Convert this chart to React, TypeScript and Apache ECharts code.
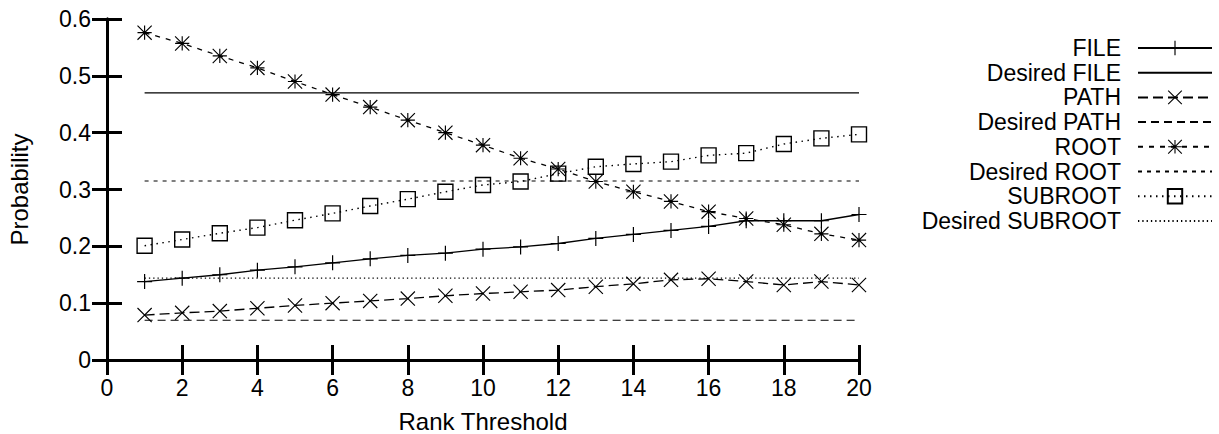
import React, { useEffect, useRef } from "react";
import * as echarts from "echarts";

// ---- data ----
const ranks = [1, 2, 3, 4, 5, 6, 7, 8, 9, 10, 11, 12, 13, 14, 15, 16, 17, 18, 19, 20];
const fileValues = [0.138, 0.144, 0.150, 0.158, 0.164, 0.171, 0.178, 0.184, 0.188, 0.195, 0.199, 0.205, 0.214, 0.221, 0.228, 0.235, 0.245, 0.245, 0.245, 0.256];
const pathValues = [0.079, 0.083, 0.086, 0.091, 0.096, 0.100, 0.104, 0.108, 0.113, 0.117, 0.120, 0.123, 0.129, 0.134, 0.141, 0.143, 0.138, 0.132, 0.138, 0.132];
const rootValues = [0.576, 0.557, 0.535, 0.514, 0.490, 0.467, 0.445, 0.422, 0.400, 0.378, 0.355, 0.336, 0.314, 0.296, 0.279, 0.261, 0.249, 0.238, 0.222, 0.211];
const subrootValues = [0.201, 0.212, 0.223, 0.233, 0.246, 0.258, 0.271, 0.283, 0.296, 0.308, 0.314, 0.328, 0.340, 0.345, 0.349, 0.360, 0.364, 0.380, 0.390, 0.397];
const desiredFile = 0.47;
const desiredPath = 0.07;
const desiredRoot = 0.315;
const desiredSubroot = 0.144;
const seriesNames = ["FILE", "Desired FILE", "PATH", "Desired PATH", "ROOT", "Desired ROOT", "SUBROOT", "Desired SUBROOT"];
const xAxisName = "Rank Threshold";
const yAxisName = "Probability";

// ---- marker shapes ----
function seg(x1: number, y1: number, x2: number, y2: number, w: number): string {
  const dx = x2 - x1;
  const dy = y2 - y1;
  const len = Math.sqrt(dx * dx + dy * dy);
  const nx = (-dy / len) * w;
  const ny = (dx / len) * w;
  return `M${x1 + nx},${y1 + ny}L${x2 + nx},${y2 + ny}L${x2 - nx},${y2 - ny}L${x1 - nx},${y1 - ny}Z`;
}
const W = 0.8;
const plusPath = "path://" + seg(0, -10, 0, 10, W) + seg(-10, 0, 10, 0, W);
const crossPath = "path://" + seg(-10, -10, 10, 10, W) + seg(-10, 10, 10, -10, W);
const starPath =
  "path://" + seg(-10, -10, 10, 10, W) + seg(-10, 10, 10, -10, W) + seg(0, -10, 0, 10, W) + seg(-10, 0, 10, 0, W);

const FONT = "'Liberation Sans', Arial, Helvetica, sans-serif";

export default function App() {
  const ref = useRef<HTMLDivElement>(null);

  useEffect(() => {
    document.body.style.margin = "0";
    if (!ref.current) return;
    const chart = echarts.init(ref.current, null, { renderer: "svg" });

    const pts = (vals: number[]) => ranks.map((r, i) => [r, vals[i]]);
    const flat = (v: number) => [
      [ranks[0], v],
      [ranks[ranks.length - 1], v],
    ];

    const dataSeries = (
      name: string,
      data: number[][],
      symbol: string,
      size: number,
      dash: any,
      width: number
    ) => ({
      name,
      type: "line",
      data,
      symbol,
      symbolSize: size,
      showSymbol: true,
      clip: false,
      lineStyle: { color: "#000", width, type: dash },
      itemStyle: { color: "#000" },
      z: 3,
    });

    const flatSeries = (name: string, v: number, dash: any, width: number) => ({
      name,
      type: "line",
      data: flat(v),
      symbol: "none",
      clip: false,
      lineStyle: { color: "#000", width, type: dash },
      itemStyle: { color: "#000", opacity: 0 },
      z: 2,
    });

    const axisCommon = {
      axisLine: { show: true, lineStyle: { color: "#000", width: 3 } },
      axisTick: { show: true, inside: true, length: 15, lineStyle: { color: "#000", width: 3 } },
      splitLine: { show: false },
    };

    const option: any = {
      animation: false,
      backgroundColor: "#fff",
      textStyle: { fontFamily: FONT },
      grid: { left: 107, right: 360, top: 19, bottom: 74, containLabel: false, outerBoundsMode: "none" },
      legend: {
        data: seriesNames,
        orient: "vertical",
        align: "right",
        right: 1,
        top: 31,
        itemWidth: 74,
        itemHeight: 18,
        itemGap: 0.7,
        selectedMode: false,
        textStyle: { fontSize: 23, fontFamily: FONT, color: "#000", lineHeight: 24, padding: [0, 12, 0, 0] },
      },
      xAxis: [
        {
          type: "value",
          min: 0,
          max: 20,
          interval: 2,
          position: "bottom",
          name: xAxisName,
          nameLocation: "middle",
          nameGap: 49,
          nameTextStyle: { fontSize: 24, color: "#000", fontFamily: FONT },
          axisLabel: { fontSize: 23, color: "#000", margin: 16, fontFamily: FONT },
          ...axisCommon,
        },
        {
          type: "value",
          min: 0,
          max: 20,
          interval: 2,
          position: "top",
          axisLabel: { show: false },
          ...axisCommon,
        },
      ],
      yAxis: [
        {
          type: "value",
          min: 0,
          max: 0.6,
          interval: 0.1,
          position: "left",
          name: yAxisName,
          nameLocation: "middle",
          nameGap: 76,
          nameRotate: 90,
          nameTextStyle: { fontSize: 24, color: "#000", fontFamily: FONT },
          axisLabel: {
            fontSize: 23,
            color: "#000",
            margin: 16,
            fontFamily: FONT,
            formatter: (v: number) => (v === 0 ? "0" : v.toFixed(1)),
          },
          ...axisCommon,
        },
        {
          type: "value",
          min: 0,
          max: 0.6,
          interval: 0.1,
          position: "right",
          axisLabel: { show: false },
          ...axisCommon,
        },
      ],
      series: [
        dataSeries(seriesNames[0], pts(fileValues), plusPath, 15, "solid", 1.3),
        flatSeries(seriesNames[1], desiredFile, "solid", 1.1),
        dataSeries(seriesNames[2], pts(pathValues), crossPath, 15, [10, 5], 1.3),
        flatSeries(seriesNames[3], desiredPath, [8, 5], 1.1),
        dataSeries(seriesNames[4], pts(rootValues), starPath, 15, [5, 6], 1.3),
        flatSeries(seriesNames[5], desiredRoot, [4, 5], 1.1),
        {
          ...dataSeries(seriesNames[6], pts(subrootValues), "rect", 15, [1.5, 4.5], 1.4),
          itemStyle: { color: "rgba(0,0,0,0)", borderColor: "#000", borderWidth: 1.4 },
        },
        flatSeries(seriesNames[7], desiredSubroot, [1.3, 3], 1.1),
      ],
    };

    chart.setOption(option);
    return () => chart.dispose();
  }, []);

  return <div ref={ref} style={{ width: 1219, height: 434 }} />;
}
